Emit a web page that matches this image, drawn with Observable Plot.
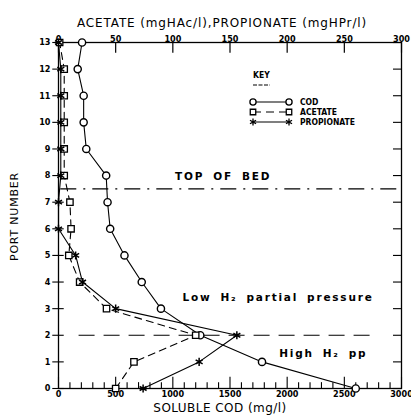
<!DOCTYPE html>
<html>
<head>
<meta charset="utf-8">
<script src="https://cdn.jsdelivr.net/npm/d3@7"></script>
<script src="https://cdn.jsdelivr.net/npm/@observablehq/plot@0.6"></script>
<style>
  body { margin: 0; background: #fff; }
  #wrap { position: relative; width: 411px; height: 418px; overflow: hidden; }
  svg { font-family: "DejaVu Sans", sans-serif; }
  .cond { font-family: "DejaVu Sans Condensed", "DejaVu Sans", sans-serif; font-stretch: condensed; }
</style>
</head>
<body>
<div id="wrap"></div>
<script>
// ---- data ----
const ports      = [0, 1, 2, 3, 4, 5, 6, 7, 8, 9, 10, 11, 12, 13];
const cod        = [2600, 1780, 1240, 896, 728, 577, 452, 429, 417, 243, 220, 220, 168, 206]; // mg/l, bottom axis
const acetate    = [50, 66, 120, 42, 18.5, 9, 11, 10, 5, 5, 5, 5, 5, 1];   // mgHAc/l, top axis
const propionate = [74, 123, 156, 50, 21, 15, 0, 0, 2, 2, 2, 2, 2, 0];     // mgHPr/l, top axis
const codTicks   = [0, 500, 1000, 1500, 2000, 2500, 3000];
const codMinor   = d3.range(0, 3001, 100);
const vfaTicks   = [0, 50, 100, 150, 200, 250, 300];
const portTicks  = d3.range(0, 14);
const bedTop     = 7.5;   // port level of top of bed
const h2Boundary = 2;     // port level of H2 boundary
const notes = [
  {text: "TOP OF BED", x: 1020, y: 7.95},
  {text: "Low H\u2082 partial pressure", x: 1085, y: 3.42},
  {text: "High H\u2082 pp", x: 1930, y: 1.32}
];
const titleTop    = "ACETATE (mgHAc/l),PROPIONATE (mgHPr/l)";
const titleBottom = "SOLUBLE COD (mg/l)";
const titleLeft   = "PORT NUMBER";
const VFA_TO_COD = 10; // top axis 0-300 maps onto bottom axis 0-3000

const codData  = ports.map((p, i) => ({port: p, v: cod[i]}));
const acData   = ports.map((p, i) => ({port: p, v: acetate[i]}));
const prData   = ports.map((p, i) => ({port: p, v: propionate[i]}));

const tickFont = {fontWeight: "bold", fill: "black", fontSize: 9, fontFamily: "DejaVu Sans Condensed, DejaVu Sans, sans-serif"};

const chart = Plot.plot({
  width: 411,
  height: 418,
  marginLeft: 58,
  marginRight: 10,
  marginTop: 42,
  marginBottom: 30,
  style: {fontFamily: "DejaVu Sans, sans-serif", color: "black", background: "white", overflow: "visible"},
  x: {domain: [0, 3000], axis: null},
  y: {domain: [0, 13], axis: null},
  marks: [
    Plot.frame({stroke: "black", strokeWidth: 1.3}),
    // bottom axis ticks (inward)
    Plot.ruleX(codMinor, {x: d => d, y1: 0, y2: d => d % 500 === 0 ? 0.42 : 0.22, stroke: "black", strokeWidth: 1.1}),
    Plot.text(codTicks, {x: d => d, y: 0, text: d => String(d), lineAnchor: "top", dy: 2, ...tickFont}),
    // top axis ticks (inward)
    Plot.ruleX(vfaTicks, {x: d => d * VFA_TO_COD, y1: 13, y2: 12.6, stroke: "black", strokeWidth: 1.2}),
    Plot.text(vfaTicks, {x: d => d * VFA_TO_COD, y: 13, text: d => String(d), lineAnchor: "bottom", dy: -1, ...tickFont}),
    // left axis
    Plot.ruleY(portTicks, {y: d => d, x1: -50, x2: 50, stroke: "black", strokeWidth: 1.1, clip: false}),
    Plot.text(portTicks, {y: d => d, x: 0, text: d => String(d), dx: -8, textAnchor: "end", ...tickFont}),
    // right axis
    Plot.ruleY(portTicks, {y: d => d, x1: 2930, x2: 3000, stroke: "black", strokeWidth: 1.1}),
    // reference lines
    Plot.ruleY([bedTop], {x1: 20, x2: 3000, stroke: "black", strokeWidth: 1.2, strokeDasharray: "16,7,2,7"}),
    Plot.ruleY([h2Boundary], {x1: 180, x2: 2780, stroke: "black", strokeWidth: 1.2, strokeDasharray: "16,9"}),
    // series lines
    Plot.line(codData, {x: "v", y: "port", stroke: "black", strokeWidth: 1.1}),
    Plot.line(acData, {x: d => d.v * VFA_TO_COD, y: "port", stroke: "black", strokeWidth: 1.1, strokeDasharray: "7,5"}),
    Plot.line(prData, {x: d => d.v * VFA_TO_COD, y: "port", stroke: "black", strokeWidth: 1.1}),
    // markers
    Plot.dot(codData, {x: "v", y: "port", symbol: "circle", r: 3.6, stroke: "black", strokeWidth: 1.4, fill: "white"}),
    Plot.dot(acData, {x: d => d.v * VFA_TO_COD, y: "port", symbol: "square", r: 3.6, stroke: "black", strokeWidth: 1.3, fill: "white"}),
    Plot.dot(prData, {x: d => d.v * VFA_TO_COD, y: "port", symbol: "asterisk", r: 3.8, stroke: "black", strokeWidth: 1.5}),
    // annotations
    Plot.text(notes, {x: "x", y: "y", text: "text", textAnchor: "start", fontSize: 10.5, fontWeight: "bold", fill: "black"}),
    // titles
    Plot.text([titleTop], {frameAnchor: "top", text: d => d, lineAnchor: "middle", textAnchor: "middle", dy: -19, dx: -8, fontSize: 12, fill: "black"}),
    Plot.text([titleBottom], {frameAnchor: "bottom", text: d => d, lineAnchor: "middle", textAnchor: "middle", dy: 20, dx: -10, fontSize: 12, fill: "black"}),
    Plot.text([titleLeft], {frameAnchor: "left", text: d => d, lineAnchor: "middle", textAnchor: "middle", dx: -44, dy: 1, rotate: -90, fontSize: 11, fill: "black"})
  ]
});

const wrap = document.getElementById("wrap");
wrap.appendChild(chart);
const svg = chart.tagName.toLowerCase() === "svg" ? chart : chart.querySelector("svg");

// letter spacing for the stencil-style lettering
const spacing = new Map([
  [titleTop, "letter-spacing:0.87px"],
  [titleBottom, "letter-spacing:0.45px"],
  [titleLeft, "letter-spacing:0.8px"],
  ...notes.map(n => [n.text, "letter-spacing:1.8px;word-spacing:3.5px"])
]);
d3.select(svg).selectAll("text").each(function () {
  const s = spacing.get(this.textContent);
  if (s) this.setAttribute("style", s);
});

// ---- legend (key) ----
const legendItems = [
  {label: "COD", symbol: d3.symbolCircle, dash: null, fill: "white"},
  {label: "ACETATE", symbol: d3.symbolSquare, dash: "8,5", fill: "white"},
  {label: "PROPIONATE", symbol: d3.symbolAsterisk, dash: null, fill: "none"}
];
const ns = "http://www.w3.org/2000/svg";
const g = document.createElementNS(ns, "g");
g.setAttribute("class", "cond");
g.setAttribute("font-weight", "bold");
g.setAttribute("font-size", "8.5");
g.setAttribute("text-anchor", "start");
let t = document.createElementNS(ns, "text");
t.setAttribute("x", 253); t.setAttribute("y", 78); t.textContent = "KEY";
g.appendChild(t);
let u = document.createElementNS(ns, "line");
u.setAttribute("x1", 253); u.setAttribute("x2", 270); u.setAttribute("y1", 85); u.setAttribute("y2", 85);
u.setAttribute("stroke", "black"); u.setAttribute("stroke-width", 1.2); u.setAttribute("stroke-dasharray", "4,1.5");
g.appendChild(u);
legendItems.forEach((it, i) => {
  const y = 102 + i * 10;
  const ln = document.createElementNS(ns, "line");
  ln.setAttribute("x1", 253); ln.setAttribute("x2", 289); ln.setAttribute("y1", y); ln.setAttribute("y2", y);
  ln.setAttribute("stroke", "black"); ln.setAttribute("stroke-width", 1.1);
  if (it.dash) ln.setAttribute("stroke-dasharray", it.dash);
  g.appendChild(ln);
  [253, 289].forEach(x => {
    const p = document.createElementNS(ns, "path");
    p.setAttribute("d", d3.symbol(it.symbol, it.symbol === d3.symbolAsterisk ? 34 : 30)());
    p.setAttribute("transform", `translate(${x},${y})`);
    p.setAttribute("stroke", "black");
    p.setAttribute("stroke-width", 1.3);
    p.setAttribute("fill", it.fill);
    g.appendChild(p);
  });
  const tx = document.createElementNS(ns, "text");
  tx.setAttribute("x", 300); tx.setAttribute("y", y + 3); tx.textContent = it.label;
  g.appendChild(tx);
});
svg.appendChild(g);
</script>
</body>
</html>
